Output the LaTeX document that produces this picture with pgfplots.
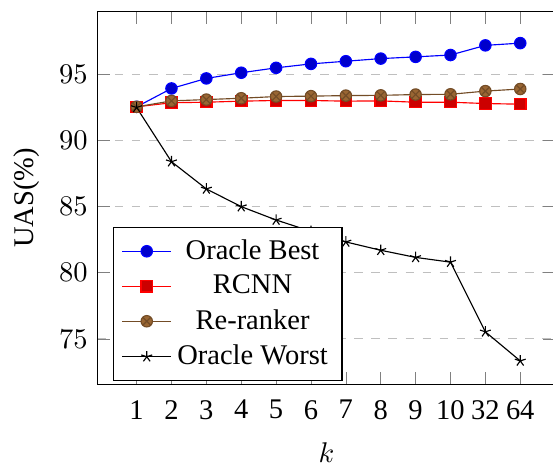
\documentclass[border=0pt]{standalone}
\usepackage{fontspec}
\setmainfont{Liberation Serif}
\usepackage{pgfplots}
\pgfplotsset{compat=1.18}
\begin{document}
\begin{tikzpicture}
% the reference is cut off at the right
\clip (-34.3pt,-28.6pt) rectangle (159.75pt,134.9pt);
\begin{axis}[
    width=160.5pt, height=130.9pt,
    scale only axis,
    xmin=-0.114, xmax=13.0,
    ymin=71.55, ymax=99.77,
    xtick={1,...,12},
    xticklabels={1,2,3,4,5,6,7,8,9,10,32,64},
    ytick={75,80,85,90,95},
    xticklabel style={yshift=-2pt},
    xlabel style={yshift=-1.2pt},
    ymajorgrids=true,
    grid style={dashed, gray!50},
    xlabel={$k$},
    ylabel={UAS(\%)},
    legend style={at={(0.0328,0.010)}, anchor=south west, cells={anchor=center}},
    legend cell align=center,
]
\addplot coordinates {(1,92.55) (2,93.94) (3,94.7) (4,95.13) (5,95.5) (6,95.8) (7,96.0) (8,96.2) (9,96.33) (10,96.47) (11,97.2) (12,97.37)};
\addlegendentry{Oracle Best}
\addplot coordinates {(1,92.55) (2,92.86) (3,92.9) (4,92.98) (5,93.03) (6,93.03) (7,92.98) (8,93.0) (9,92.9) (10,92.9) (11,92.8) (12,92.75)};
\addlegendentry{RCNN}
\addplot coordinates {(1,92.55) (2,93.0) (3,93.1) (4,93.2) (5,93.33) (6,93.36) (7,93.4) (8,93.42) (9,93.48) (10,93.5) (11,93.74) (12,93.9)};
\addlegendentry{Re-ranker}
\addplot coordinates {(1,92.5) (2,88.4) (3,86.34) (4,85.0) (5,83.99) (6,83.13) (7,82.33) (8,81.7) (9,81.16) (10,80.8) (11,75.53) (12,73.33)};
\addlegendentry{Oracle Worst}
\end{axis}
\end{tikzpicture}
\end{document}
